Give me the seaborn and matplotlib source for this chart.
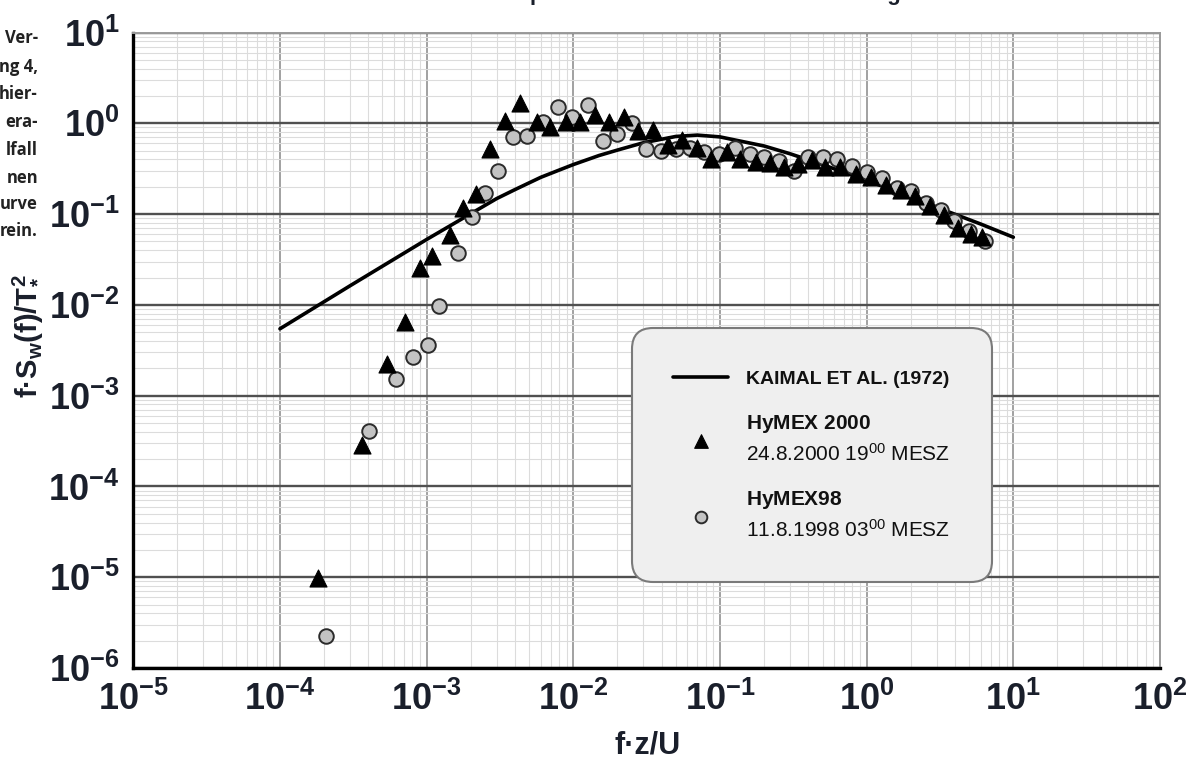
import numpy as np
import pandas as pd
import matplotlib
matplotlib.use("Agg")
import matplotlib.pyplot as plt
import seaborn as sns
from matplotlib.ticker import (FixedLocator, LogLocator, NullFormatter,
                               LogFormatterSciNotation)

# ---------------- data ----------------
kaimal_x = [1e-4, 3e-4, 1e-3, 2e-3, 3e-3, 4e-3, 6e-3, 8e-3, 1e-2, 1.5e-2, 2e-2, 3e-2,
            5e-2, 7e-2, 1e-1, 2e-1, 3e-1, 5e-1, 1.0, 2.0, 3.5, 6.0, 10.0]
kaimal_y = [0.00545, 0.0162, 0.0525, 0.101, 0.148, 0.186, 0.254, 0.305, 0.351, 0.442,
            0.507, 0.610, 0.716, 0.741, 0.708, 0.562, 0.462, 0.351, 0.234, 0.157,
            0.108, 0.0776, 0.0556]

hymex2000_x = [1.82e-4, 3.62e-4, 5.33e-4, 7.11e-4, 8.99e-4, 1.09e-3, 1.44e-3, 1.78e-3,
               2.17e-3, 2.70e-3, 3.42e-3, 4.33e-3, 5.62e-3, 6.92e-3, 8.91e-3, 0.0111,
               0.0140, 0.0175, 0.0221, 0.0277, 0.0351, 0.0444, 0.0555, 0.0702, 0.0867,
               0.111, 0.137, 0.176, 0.219, 0.273, 0.341, 0.421, 0.519, 0.656, 0.843,
               1.07, 1.35, 1.71, 2.13, 2.70, 3.36, 4.19, 5.13, 6.10]
hymex2000_y = [9.8e-6, 2.86e-4, 2.23e-3, 6.53e-3, 0.0253, 0.0348, 0.0589, 0.116,
               0.165, 0.518, 1.06, 1.66, 1.04, 0.918, 1.03, 1.04,
               1.23, 1.04, 1.17, 0.823, 0.844, 0.577, 0.655, 0.531, 0.405,
               0.477, 0.405, 0.375, 0.366, 0.330, 0.356, 0.394, 0.333, 0.333, 0.277,
               0.256, 0.209, 0.184, 0.158, 0.123, 0.0970, 0.0703, 0.0604, 0.0552]

hymex98_x = [2.06e-4, 4.05e-4, 6.18e-4, 8.07e-4, 1.02e-3, 1.22e-3, 1.64e-3, 2.03e-3,
             2.49e-3, 3.05e-3, 3.85e-3, 4.81e-3, 6.21e-3, 7.88e-3, 9.77e-3, 0.0126,
             0.0159, 0.0198, 0.0251, 0.0314, 0.0397, 0.0502, 0.0624, 0.0776, 0.0984,
             0.126, 0.159, 0.201, 0.254, 0.319, 0.399, 0.502, 0.627, 0.792, 1.0,
             1.27, 1.60, 2.02, 2.55, 3.21, 3.97, 4.98, 6.40]
hymex98_y = [2.26e-6, 4.09e-4, 1.53e-3, 2.67e-3, 3.61e-3, 9.72e-3, 0.0376, 0.0936,
             0.169, 0.301, 0.701, 0.720, 1.03, 1.52, 1.16, 1.59,
             0.638, 0.762, 1.0, 0.521, 0.501, 0.521, 0.541, 0.486, 0.459,
             0.541, 0.459, 0.420, 0.384, 0.299, 0.420, 0.428, 0.405, 0.339, 0.293,
             0.250, 0.196, 0.179, 0.134, 0.111, 0.0830, 0.0652, 0.0506]

x_ticks = [1e-5, 1e-4, 1e-3, 1e-2, 1e-1, 1e0, 1e1, 1e2]
y_ticks = [1e-6, 1e-5, 1e-4, 1e-3, 1e-2, 1e-1, 1e0, 1e1]

legend_labels = ["KAIMAL ET AL. (1972)",
                 r"$\mathbf{HyMEX\ 2000}$" + "\n" + r"24.8.2000 19$^{00}$ MESZ",
                 r"$\mathbf{HyMEX98}$" + "\n" + r"11.8.1998 03$^{00}$ MESZ"]
x_label = "f·z/U"
y_label = r"f·S$_{w}$(f)/T$_{*}^{2}$"
title_text = "Normierte Spektren des Vertikalwindes im Vergleich"
side_text = ["Ver-", "ng 4,", "hier-", "era-", "lfall", "nen", "urve", "rein."]

# ---------------- style ----------------
sns.set_style("white")
SANS = ["Liberation Sans", "DejaVu Sans"]
plt.rcParams["font.family"] = SANS
plt.rcParams["mathtext.fontset"] = "custom"
plt.rcParams["mathtext.rm"] = "Liberation Sans"
plt.rcParams["mathtext.bf"] = "Liberation Sans:bold"
plt.rcParams["mathtext.it"] = "Liberation Sans:italic"
plt.rcParams["mathtext.sf"] = "Liberation Sans"
plt.rcParams["mathtext.default"] = "regular"
plt.rcParams["axes.unicode_minus"] = False

TXT = "#1a1f2b"

fig = plt.figure(figsize=(12.02, 7.76), dpi=100, facecolor="white")
ax = fig.add_axes([133.3 / 1202, (776 - 668) / 776, 1026.7 / 1202, 635.5 / 776])

kaimal = pd.DataFrame({"x": kaimal_x, "y": kaimal_y})
h2000 = pd.DataFrame({"x": hymex2000_x, "y": hymex2000_y})
h98 = pd.DataFrame({"x": hymex98_x, "y": hymex98_y})

sns.lineplot(data=kaimal, x="x", y="y", color="black", linewidth=2.6, ax=ax,
             zorder=2, sort=False, label="kaimal", errorbar=None)
sns.scatterplot(data=h98, x="x", y="y", marker="o", s=110, color="#c3c3c3",
                edgecolor="#2b2b2b", linewidth=1.4, ax=ax, zorder=3, label="h98")
sns.scatterplot(data=h2000, x="x", y="y", marker="^", s=150, color="black",
                edgecolor="black", linewidth=0.8, ax=ax, zorder=4, label="h2000")

ax.set_xscale("log")
ax.set_yscale("log")
ax.set_xlim(1e-5, 1e2)
ax.set_ylim(1e-6, 1e1)

ax.xaxis.set_major_locator(FixedLocator(x_ticks))
ax.yaxis.set_major_locator(FixedLocator(y_ticks))
for axis in (ax.xaxis, ax.yaxis):
    axis.set_minor_locator(LogLocator(base=10, subs=np.arange(2, 10), numticks=200))
    axis.set_minor_formatter(NullFormatter())
    axis.set_major_formatter(LogFormatterSciNotation())

ax.set_axisbelow(True)
ax.grid(which="minor", axis="both", color="#dcdcdc", linewidth=0.8)
ax.grid(which="major", axis="x", color="#9a9a9a", linewidth=1.3)
ax.grid(which="major", axis="y", color="#505050", linewidth=1.7)

for side in ("left", "bottom"):
    ax.spines[side].set_color("black")
    ax.spines[side].set_linewidth(2.4)
for side in ("top", "right"):
    ax.spines[side].set_color("#9a9a9a")
    ax.spines[side].set_linewidth(1.4)

ax.tick_params(which="major", direction="out", length=7, width=1.8, color="black",
               labelsize=26, labelcolor=TXT)
ax.tick_params(which="minor", direction="out", length=4.5, width=1.4, color="black")
ax.tick_params(axis="y", which="major", pad=3)
ax.tick_params(axis="x", which="major", pad=3)
for lab in ax.get_xticklabels() + ax.get_yticklabels():
    lab.set_fontweight("bold")
    lab.set_family(SANS)

ax.set_xlabel(x_label, fontsize=22, fontweight="bold", color=TXT)
ax.set_ylabel(y_label, fontsize=21, fontweight="bold", color=TXT)
ax.xaxis.label.set_va("center")
ax.yaxis.label.set_va("center")
ax.xaxis.set_label_coords(0.5013, (668 - 745) / 635.5)
ax.yaxis.set_label_coords((27 - 133.3) / 1026.7, (668 - 336) / 635.5)

# legend
hmap = dict(zip(*ax.get_legend_handles_labels()[::-1]))
handles = [hmap["kaimal"], hmap["h2000"], hmap["h98"]]
leg = ax.legend(handles, legend_labels, loc="upper left",
                bbox_to_anchor=(0.4855, 0.535), borderaxespad=0,
                prop={"family": SANS, "size": 15}, labelspacing=1.2,
                handlelength=2.6, handletextpad=0.9, borderpad=2.0,
                markerscale=0.8, frameon=True, fancybox=True, framealpha=1)
frame = leg.get_frame()
frame.set_facecolor("#efefef")
frame.set_edgecolor("#7a7a7a")
frame.set_linewidth(1.5)
frame.set_boxstyle("round", pad=0, rounding_size=1.0)
texts = leg.get_texts()
texts[0].set_fontweight("bold")
texts[0].set_fontsize(14)
for t in texts:
    t.set_color("#111111")
    t.set_linespacing(1.4)

# title (cut off at the top edge of the picture)
fig.text(0.336, 1.0, title_text, ha="left", va="baseline", fontsize=16,
         fontweight="bold", color=TXT, family=SANS)

# fragments of neighbouring caption text on the left
side_y = [38, 67, 94, 122, 150, 178, 204, 231]
for s, yy in zip(side_text, side_y):
    fig.text(38 / 1202, 1 - yy / 776, s, ha="right", va="center", fontsize=12,
             fontweight="bold", color="#222222", family=["Open Sans", "DejaVu Sans"])

fig.savefig("out.png", dpi=100, facecolor="white")
